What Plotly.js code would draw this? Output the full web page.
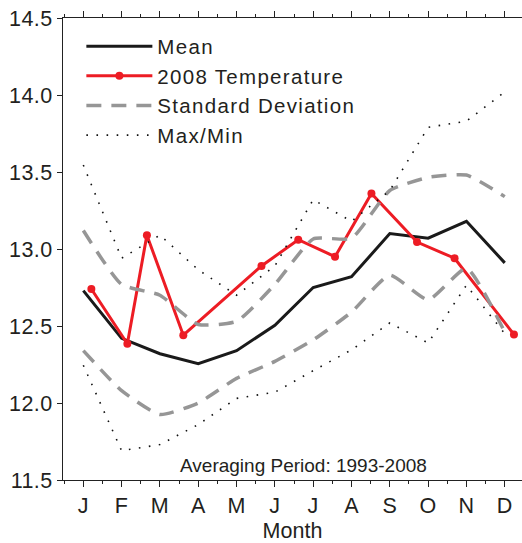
<!DOCTYPE html>
<html>
<head>
<meta charset="utf-8">
<script src="https://cdn.plot.ly/plotly-3.0.1.min.js"></script>
<style>
html, body { margin: 0; padding: 0; background: #fff; }
#chart { width: 522px; height: 543px; }
.legendtext { letter-spacing: 1.3px; }
#chart .xtick text, #chart .ytick text { letter-spacing: 0.4px; }
</style>
</head>
<body>
<div id="chart"></div>
<script>
// ---- data ----
var months = [1, 2, 3, 4, 5, 6, 7, 8, 9, 10, 11, 12];
var monthLabels = ["J", "F", "M", "A", "M", "J", "J", "A", "S", "O", "N", "D"];
var meanVals = [12.73, 12.42, 12.32, 12.255, 12.34, 12.505, 12.75, 12.82, 13.10, 13.07, 13.18, 12.91];
var sdUpper = [13.12, 12.77, 12.70, 12.51, 12.53, 12.77, 13.065, 13.07, 13.38, 13.465, 13.48, 13.34];
var sdLower = [12.34, 12.08, 11.925, 12.0, 12.16, 12.27, 12.41, 12.59, 12.83, 12.67, 12.875, 12.46];
var maxVals = [13.545, 12.94, 13.09, 12.865, 12.70, 12.89, 13.32, 13.18, 13.38, 13.79, 13.83, 14.02];
var minVals = [12.245, 11.69, 11.73, 11.86, 12.03, 12.07, 12.21, 12.345, 12.52, 12.39, 12.765, 12.45];
var tempX = [1.21, 2.15, 2.66, 3.61, 5.65, 6.61, 7.57, 8.52, 9.71, 10.69, 12.24];
var tempVals = [12.74, 12.385, 13.09, 12.44, 12.89, 13.06, 12.95, 13.36, 13.045, 12.94, 12.445];

var FONT = "Liberation Sans, Arial, sans-serif";
var TXT = "#231f20";
var GRAY = "rgb(150,150,150)";
var RED = "rgb(237,28,36)";

var traces = [
  { x: months, y: meanVals, name: "Mean", mode: "lines",
    line: { color: "#1a1a1a", width: 3 } },
  { x: tempX, y: tempVals, name: "2008 Temperature", mode: "lines+markers",
    line: { color: RED, width: 3 }, marker: { color: RED, size: 8 } },
  { x: months, y: sdUpper, name: "Standard Deviation", mode: "lines", legendgroup: "sd",
    line: { color: GRAY, width: 3.5, dash: "15px,10px", shape: "spline", smoothing: 0.5 } },
  { x: months, y: sdLower, name: "Standard Deviation", mode: "lines", legendgroup: "sd", showlegend: false,
    line: { color: GRAY, width: 3.5, dash: "15px,10px", shape: "spline", smoothing: 0.5 } },
  { x: months, y: maxVals, name: "Max/Min", mode: "lines", legendgroup: "mm",
    line: { color: "#111", width: 1.6, dash: "1.6px,8.5px" } },
  { x: months, y: minVals, name: "Max/Min", mode: "lines", legendgroup: "mm", showlegend: false,
    line: { color: "#111", width: 1.6, dash: "1.6px,8.5px" } }
];

var layout = {
  width: 522, height: 543,
  margin: { l: 63, r: 0, t: 18, b: 63 },
  paper_bgcolor: "#fff", plot_bgcolor: "#fff",
  font: { family: FONT, color: TXT, size: 21 },
  showlegend: true,
  legend: {
    x: 0.04, y: 0.982, xanchor: "left", yanchor: "top",
    bgcolor: "rgba(0,0,0,0)", borderwidth: 0,
    font: { family: FONT, size: 20.5, color: TXT },
    itemwidth: 66, tracegroupgap: 0
  },
  xaxis: {
    range: [0.47, 12.45],
    tickmode: "array", tickvals: months, ticktext: monthLabels,
    ticks: "outside", ticklen: 6, tickwidth: 1, tickcolor: "#222",
    minor: { dtick: 0.5, tick0: 0.5, ticks: "outside", ticklen: 3, tickcolor: "#222" },
    showline: true, linecolor: "#222", linewidth: 1.2, mirror: "ticks",
    showgrid: false, zeroline: false,
    tickfont: { family: FONT, size: 21.5, color: TXT },
    title: { text: "Month", font: { family: FONT, size: 21.5, color: TXT }, standoff: 7 }
  },
  yaxis: {
    range: [11.5, 14.5],
    tickmode: "array", tickvals: [11.5, 12.0, 12.5, 13.0, 13.5, 14.0, 14.5],
    ticktext: ["11.5", "12.0", "12.5", "13.0", "13.5", "14.0", "14.5"],
    ticks: "outside", ticklen: 5, tickwidth: 1, tickcolor: "#222",
    showline: true, linecolor: "#222", linewidth: 1.2,
    showgrid: false, zeroline: false,
    tickfont: { family: FONT, size: 21.5, color: TXT }
  },
  annotations: [
    { xref: "paper", yref: "paper", x: 0.524, y: 0.0315, xanchor: "center", yanchor: "middle",
      text: "Averaging Period: 1993-2008", showarrow: false,
      font: { family: FONT, size: 19, color: TXT } }
  ]
};

Plotly.newPlot("chart", traces, layout, { displayModeBar: false, staticPlot: true });
</script>
</body>
</html>
